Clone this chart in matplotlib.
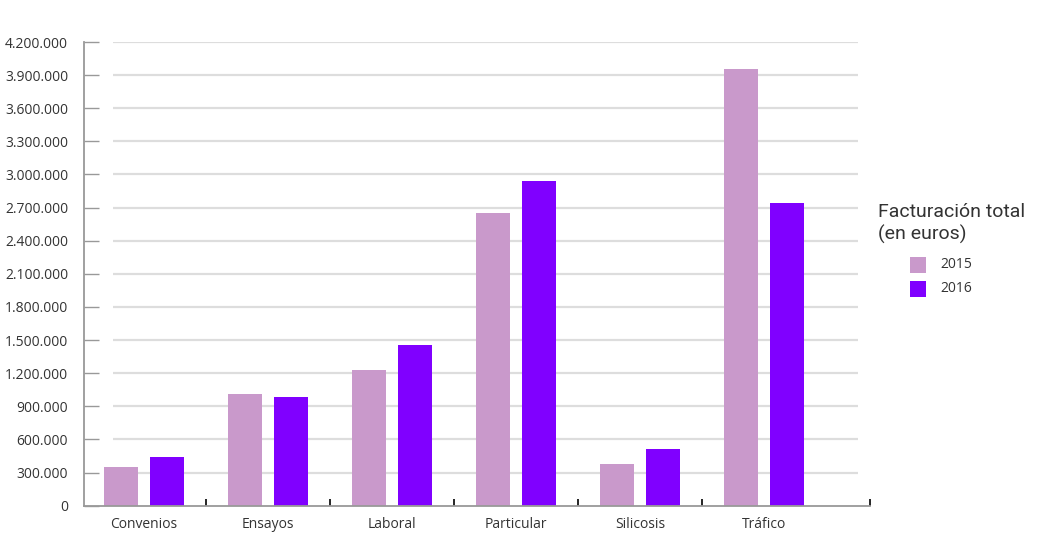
'''
fun: facturación total por área, 2015 vs 2016
'''
import matplotlib
matplotlib.use('Agg')
import matplotlib.pyplot as plt
from matplotlib.patches import Rectangle
import numpy as np

categories = ['Convenios', 'Ensayos', 'Laboral', 'Particular', 'Silicosis', 'Tráfico']
years = ['2015', '2016']
values_2015 = [350000, 1010000, 1230000, 2650000, 376000, 3955000]
values_2016 = [437000, 987000, 1455000, 2945000, 515000, 2740000]
yticks = list(range(0, 4200001, 300000))
legend_title = 'Facturación total\n(en euros)'

colors = ['#c999cb', '#8000ff']
axis_grey = '#999999'
text_col = '#333333'

plt.rcParams['font.family'] = ['Open Sans', 'DejaVu Sans']


def fmt(v):
	'''thousands with dots, spanish style'''
	return '{:,}'.format(int(v)).replace(',', '.')


def main():
	W, H = 1050., 550.
	fig = plt.figure(figsize=(10.5, 5.5), dpi=100)
	# axes box in pixels: left spine x=84, right end x=870, y 0 at 505.7, top at 42
	ax = fig.add_axes([84/W, (H-505.7)/H, 786/W, 463.7/H])

	x = np.arange(len(categories))
	width = 0.274
	off = 0.185
	ax.bar(x - off, values_2015, width=width, color=colors[0], zorder=2)
	ax.bar(x + off, values_2016, width=width, color=colors[1], zorder=2)

	# gridlines do not touch the spine
	ax.hlines(yticks[1:], -0.25, 5.75, color='#dddddd', lw=1.6, zorder=1)

	ax.set_xlim(-0.48, 5.85)
	ax.set_ylim(0, 4200000)

	for s in ['top', 'right']:
		ax.spines[s].set_visible(False)
	for s in ['left', 'bottom']:
		ax.spines[s].set_color(axis_grey)
		ax.spines[s].set_linewidth(1.3)

	ax.set_yticks(yticks)
	ax.set_yticklabels([fmt(v) for v in yticks])
	ax.tick_params(axis='y', direction='in', length=11, width=1, color=axis_grey,
		pad=11.5, labelsize=10, labelcolor=text_col)

	ax.set_xticks(x)
	ax.set_xticklabels(categories)
	ax.tick_params(axis='x', which='major', length=0, pad=8, labelsize=10, labelcolor=text_col)
	ax.set_xticks(list(x[:-1] + 0.5) + [5.85], minor=True)
	ax.tick_params(axis='x', which='minor', direction='in', length=5, width=1.2, color='black')

	# legend drawn by hand to keep the indented layout
	t1, t2 = legend_title.split('\n')
	fig.text(878/W, (H-217)/H, t1, family=['Roboto', 'DejaVu Sans'], fontsize=14,
		color=text_col, va='baseline', ha='left')
	fig.text(878/W, (H-240)/H, t2, family=['Roboto', 'DejaVu Sans'], fontsize=14,
		color=text_col, va='baseline', ha='left')
	for i, yr in enumerate(years):
		top = 256.7 + i*24.3
		fig.add_artist(Rectangle((910/W, (H-top-16)/H), 16/W, 16/H,
			transform=fig.transFigure, color=colors[i], lw=0))
		fig.text(940/W, (H-top-8)/H, yr, fontsize=10, color=text_col, va='center', ha='left')

	fig.savefig('out.png', dpi=100)


if __name__ == '__main__':
	main()
